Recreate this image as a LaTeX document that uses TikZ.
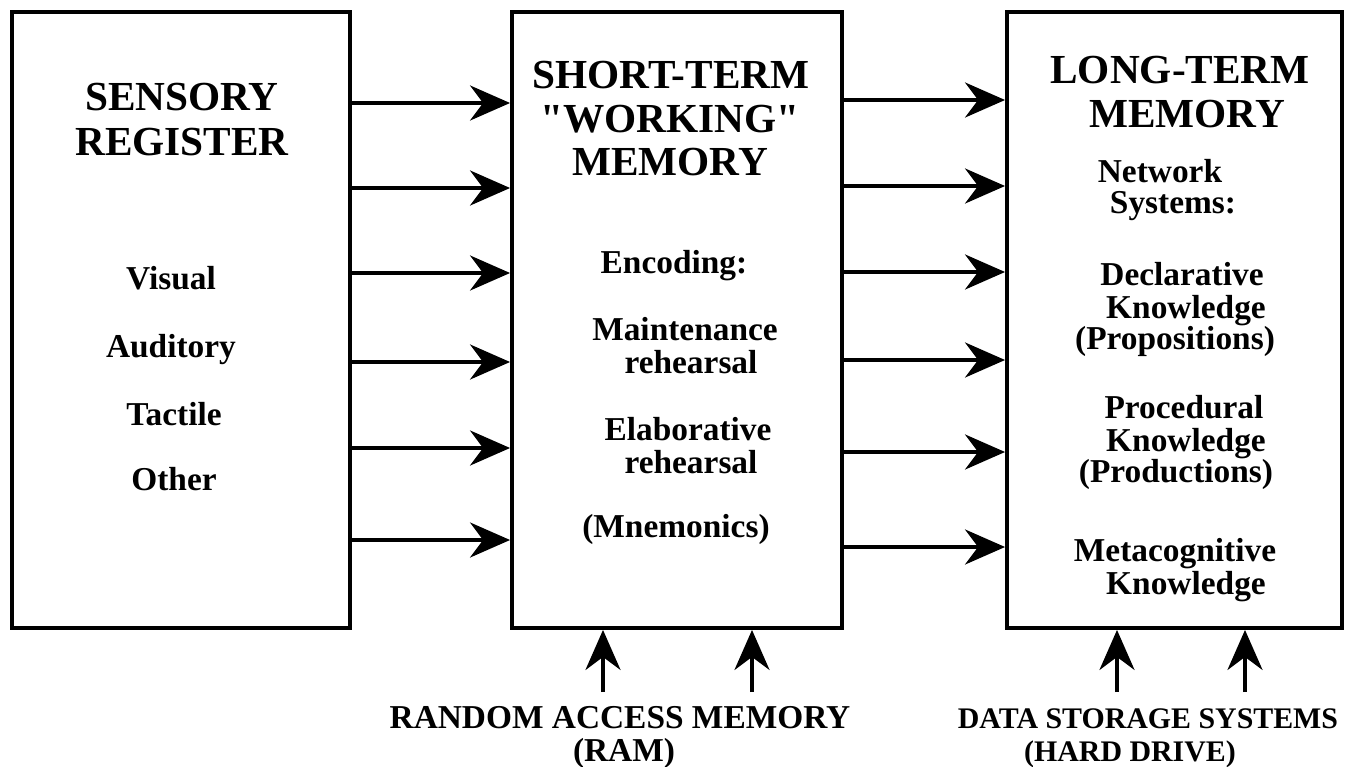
\documentclass[tikz,border=0pt]{standalone}
\usepackage{fontspec}
\setmainfont{Liberation Serif}
\usepackage{tikz}
\usetikzlibrary{arrows.meta}

\tikzset{
  box/.style={draw, line width=2.2pt, minimum height=12.32cm, inner sep=0pt},
  arr/.style={line width=2.2pt, -{Stealth[length=0.8cm, width=0.7cm, inset=0.26cm]}},
  head/.style={font=\fontsize{23.5}{25}\selectfont\bfseries, anchor=base},
  txt/.style={font=\fontsize{19}{20}\selectfont\bfseries, anchor=base},
  small/.style={font=\fontsize{17}{18}\selectfont\bfseries}
}

\begin{document}
\begin{tikzpicture}
  \useasboundingbox (0,0) rectangle (26.98,-15.32);
  \node[box, minimum width=6.76cm] (sr) at (3.62,-6.4) {};
  \node[box, minimum width=6.6cm] (stm) at (13.54,-6.4) {};
  \node[box, minimum width=6.7cm] (ltm) at (23.49,-6.4) {};

  \node[head] (sr1) at (3.64,-2.2) {SENSORY};
  \node[head] (sr2) at (3.64,-3.1) {REGISTER};
  \node[txt] (visual) at (3.42,-5.78) {Visual};
  \node[txt] (auditory) at (3.42,-7.14) {Auditory};
  \node[txt] (tactile) at (3.48,-8.5) {Tactile};
  \node[txt] (other) at (3.48,-9.8) {Other};

  \node[head] (stm1) at (13.42,-1.76) {SHORT-TERM};
  \node[head] (stm2) at (13.4,-2.64) {\textquotedbl WORKING\textquotedbl};
  \node[head] (stm3) at (13.4,-3.5) {MEMORY};
  \node[txt] (encoding) at (13.48,-5.46) {Encoding:};
  \node[txt] (maint) at (13.7,-6.8) {Maintenance};
  \node[txt] (maintr) at (13.82,-7.46) {rehearsal};
  \node[txt] (elab) at (13.76,-8.8) {Elaborative};
  \node[txt] (elabr) at (13.82,-9.46) {rehearsal};
  \node[txt] (mnem) at (13.52,-10.74) {(Mnemonics)};

  \node[head] (ltm1) at (23.6,-1.66) {LONG-TERM};
  \node[head] (ltm2) at (23.74,-2.54) {MEMORY};
  \node[txt] (network) at (23.2,-3.64) {Network};
  \node[txt] (systems) at (23.46,-4.26) {Systems:};
  \node[txt] (decl1) at (23.64,-5.7) {Declarative};
  \node[txt] (decl2) at (23.72,-6.36) {Knowledge};
  \node[txt] (decl3) at (23.5,-6.98) {(Propositions)};
  \node[txt] (proc1) at (23.68,-8.36) {Procedural};
  \node[txt] (proc2) at (23.72,-9.02) {Knowledge};
  \node[txt] (proc3) at (23.52,-9.64) {(Productions)};
  \node[txt] (meta1) at (23.5,-11.22) {Metacognitive};
  \node[txt] (meta2) at (23.72,-11.88) {Knowledge};

  \foreach \y in {2.06,3.76,5.46,7.24,8.96,10.8}
    \draw[arr] (sr.east |- 0,-\y) -- (stm.west |- 0,-\y);
  \foreach \y in {2.0,3.72,5.44,7.2,9.04,10.94}
    \draw[arr] (stm.east |- 0,-\y) -- (ltm.west |- 0,-\y);

  \node[txt] (ram1) at (12.4,-14.56) {RANDOM ACCESS MEMORY};
  \node[txt] (ram2) at (12.48,-15.22) {(RAM)};
  \node[txt, small] (hdd1) at (22.96,-14.56) {DATA STORAGE SYSTEMS};
  \node[txt, small] (hdd2) at (22.6,-15.22) {(HARD DRIVE)};

  \foreach \x in {12.06,15.04}
    \draw[arr] (\x,-13.84) -- (stm.south -| \x,0);
  \foreach \x in {22.34,24.9}
    \draw[arr] (\x,-13.84) -- (ltm.south -| \x,0);
\end{tikzpicture}
\end{document}
